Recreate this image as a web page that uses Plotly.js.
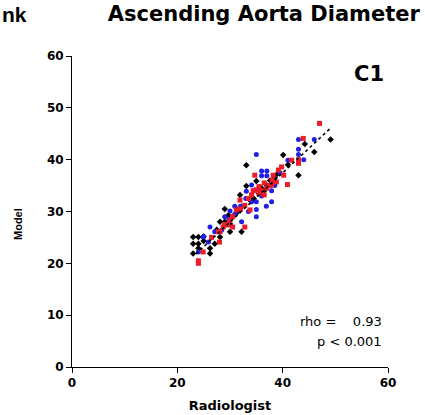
<!DOCTYPE html>
<html>
<head>
<meta charset="utf-8">
<script src="https://cdn.plot.ly/plotly-3.0.1.min.js"></script>
<style>html,body{margin:0;padding:0;background:#fff;}#chart{width:425px;height:415px;}</style>
</head>
<body>
<div id="chart"></div>
<script>
// Series values (Radiologist x, Model y)
const blackX = [23,24,25,23,24,25,23,24,26.2,26.2,27.1,28.1,28.1,29,29.7,30,30,31,31.9,32.2,32.2,33.1,33.1,34,35,35.5,36,37,37.6,38.2,38.5,39,40.1,41,43,44.2,46,49.1,29,27.5,31.5,34.5,36.5];
const blackY = [25.1,25.1,25.2,23.8,23.8,24.3,21.9,22.9,22.9,21.9,23.8,25.1,28,28,29.3,26.1,27.6,29.5,33.2,30.9,26.1,38.9,34.9,32,35.9,33.5,34.5,35,36,35.3,36.5,37.3,40.9,39,37,43,41.5,43.9,30.5,26.5,30,32.5,34];
const blueX = [24,24.9,25.9,25,26.2,27.1,28.4,29,29.5,30,30.9,31.5,32.2,33.1,33.5,34.1,34.1,35,35,35,35,35.5,36,36,36.9,37,37,37.9,37.9,38.5,39.5,41,43,43,43,44,46,29.8,32,33,34.5,31,36];
const blueY = [22.2,25.1,24.1,25.2,27,26.1,26.4,29,27.6,30.1,31,30.5,28,33.9,30,35.1,31.9,31.9,30.4,29,41,34,37.8,36.9,31,37.8,36.9,34,31.9,35,37.5,39.9,43.9,42,41,40,43.9,28.5,31,32.5,34,29.5,33];
const redX = [24,24.9,24,27.8,28,28.1,28.7,29.5,30,30.5,31.2,31.9,32.8,32.8,33.8,34.1,34.4,34.7,35,35.5,36,36.5,37,37.5,37.9,38.2,38.8,39.2,39.8,40.2,40.9,41.7,43,43,43.9,47,30.5,32,33.5,35.5,36.5,38,26.5,29];
const redY = [20,22.2,20.5,26.1,24.1,26.1,27,27.4,28.3,27,30.3,32.2,31.2,27,30.3,33.2,34,37,34.2,33.5,34,33.2,34.5,35,35.1,37,35.7,38,38.6,37,35.2,39.9,40,39.3,44.1,47,29,30.5,32.5,34.8,35.5,36,25,27.5];
// Trend line endpoints
const trendX = [23.5, 49];
const trendY = [21.8, 46];
// Axis ticks
const tickVals = [0, 10, 20, 30, 40, 50, 60];
const xTickVals = [0, 20, 40, 60];

const WIDE = 'DejaVu Sans, sans-serif';
const ARIAL = 'Liberation Sans, Arial, sans-serif';

const traces = [
  {x: blackX, y: blackY, mode: 'markers', type: 'scatter', name: 'A',
   marker: {symbol: 'diamond', size: 5, color: '#000000'}},
  {x: blueX, y: blueY, mode: 'markers', type: 'scatter', name: 'B',
   marker: {symbol: 'circle', size: 5, color: '#1f1fe6'}},
  {x: redX, y: redY, mode: 'markers', type: 'scatter', name: 'C',
   marker: {symbol: 'square', size: 5, color: '#ec1c28'}},
  {x: trendX, y: trendY, mode: 'lines', type: 'scatter', name: 'fit',
   line: {color: '#000000', width: 1.6, dash: 'dot'}}
];

const PW = 316, PH = 311, ML = 72, MT = 56;
const layout = {
  width: 425, height: 415,
  margin: {l: ML, r: 37, t: MT, b: 48, pad: 0},
  paper_bgcolor: '#ffffff', plot_bgcolor: '#ffffff',
  showlegend: false,
  font: {family: WIDE, color: '#000000'},
  title: {text: 'Ascending Aorta Diameter', font: {family: WIDE, size: 21, weight: 'bold', color: '#000'},
          x: 258/425, xanchor: 'center', y: 1 - 14/415, yanchor: 'middle', xref: 'paper'},
  xaxis: {range: [0, 60], tickvals: xTickVals, showgrid: false, zeroline: false,
          showline: true, linecolor: '#000', linewidth: 1, ticks: 'outside', ticklen: 5, tickcolor: '#000',
          tickfont: {family: WIDE, size: 12, weight: 'bold'},
          title: {text: 'Radiologist', font: {family: WIDE, size: 13, weight: 'bold'}, standoff: 11}},
  yaxis: {range: [0, 60], tickvals: tickVals, showgrid: false, zeroline: false,
          showline: true, linecolor: '#000', linewidth: 1, ticks: 'outside', ticklen: 5, tickcolor: '#000',
          tickfont: {family: WIDE, size: 12, weight: 'bold'}},
  annotations: [
    {text: 'nk', xref: 'paper', yref: 'paper', x: (0-ML)/PW, xanchor: 'left', y: 1 + (MT-14)/PH, yanchor: 'middle',
     showarrow: false, font: {family: ARIAL, size: 21, weight: 'bold'}},
    {text: 'Model', xref: 'paper', yref: 'paper', x: (18-ML)/PW, xanchor: 'center', y: 1 - (224-MT)/PH, yanchor: 'middle',
     textangle: -90, showarrow: false, font: {family: ARIAL, size: 11, weight: 'bold'}},
    {text: 'C1', xref: 'x', yref: 'y', x: 56.3, y: 56.6, xanchor: 'center', yanchor: 'middle',
     showarrow: false, font: {family: WIDE, size: 21, weight: 'bold'}},
    {text: 'rho =\u00a0\u00a0\u00a0 0.93', xref: 'x', yref: 'y', x: 59.2, y: 8.8, xanchor: 'right', yanchor: 'middle',
     showarrow: false, font: {family: WIDE, size: 13}},
    {text: 'p < 0.001', xref: 'x', yref: 'y', x: 59.2, y: 5.0, xanchor: 'right', yanchor: 'middle',
     showarrow: false, font: {family: WIDE, size: 13}}
  ]
};

Plotly.newPlot('chart', traces, layout, {displayModeBar: false, staticPlot: true});
</script>
</body>
</html>
